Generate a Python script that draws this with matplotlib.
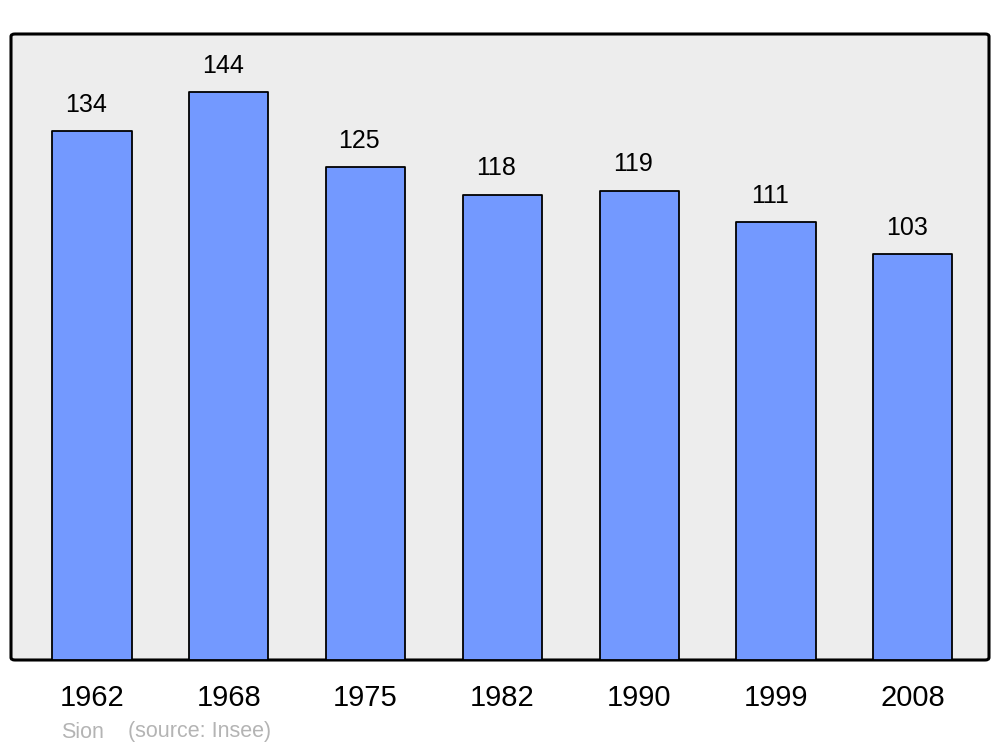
import matplotlib
matplotlib.use("Agg")
import matplotlib.pyplot as plt
from matplotlib.patches import FancyBboxPatch

years = ["1962", "1968", "1975", "1982", "1990", "1999", "2008"]
population = [134, 144, 125, 118, 119, 111, 103]

plt.rcParams['font.family'] = ['Liberation Sans', 'DejaVu Sans']

fig = plt.figure(figsize=(10, 7.47), dpi=100)
# frame spans x 11..989, y 34..660 in pixels
ax = fig.add_axes([11 / 1000, 1 - 660 / 747, 978 / 1000, 626 / 747])
ax.set_facecolor('none')
for s in ax.spines.values():
    s.set_visible(False)

frame = FancyBboxPatch((0, 0), 1, 1, boxstyle="round,pad=0,rounding_size=0.004",
                       transform=ax.transAxes, facecolor='#ededed',
                       edgecolor='black', linewidth=2.2, zorder=0, clip_on=False)
ax.add_patch(frame)

x = list(range(len(years)))
bars = ax.bar(x, population, width=0.578, color='#7399ff', edgecolor='black',
              linewidth=1.3, zorder=2)
for b in bars:
    b.set_joinstyle('round')

for xi, v in zip(x, population):
    ax.text(xi - 0.045, v + 3.6, str(v), ha='center', va='bottom', fontsize=18)

ax.set_xlim(-0.592, 6.557)
ax.set_ylim(0, 158.7)
ax.set_yticks([])
ax.set_xticks(x)
ax.set_xticklabels(years, fontsize=21)
ax.tick_params(axis='x', length=0, pad=17)

fig.text(61 / 1000, 1 - 732 / 747, "Sion", color='#b4b4b4', fontsize=15.5, va='center')
fig.text(128 / 1000, 1 - 732 / 747, "(source: Insee)", color='#b4b4b4', fontsize=15.5, va='center')

fig.savefig("out.png", dpi=100)
